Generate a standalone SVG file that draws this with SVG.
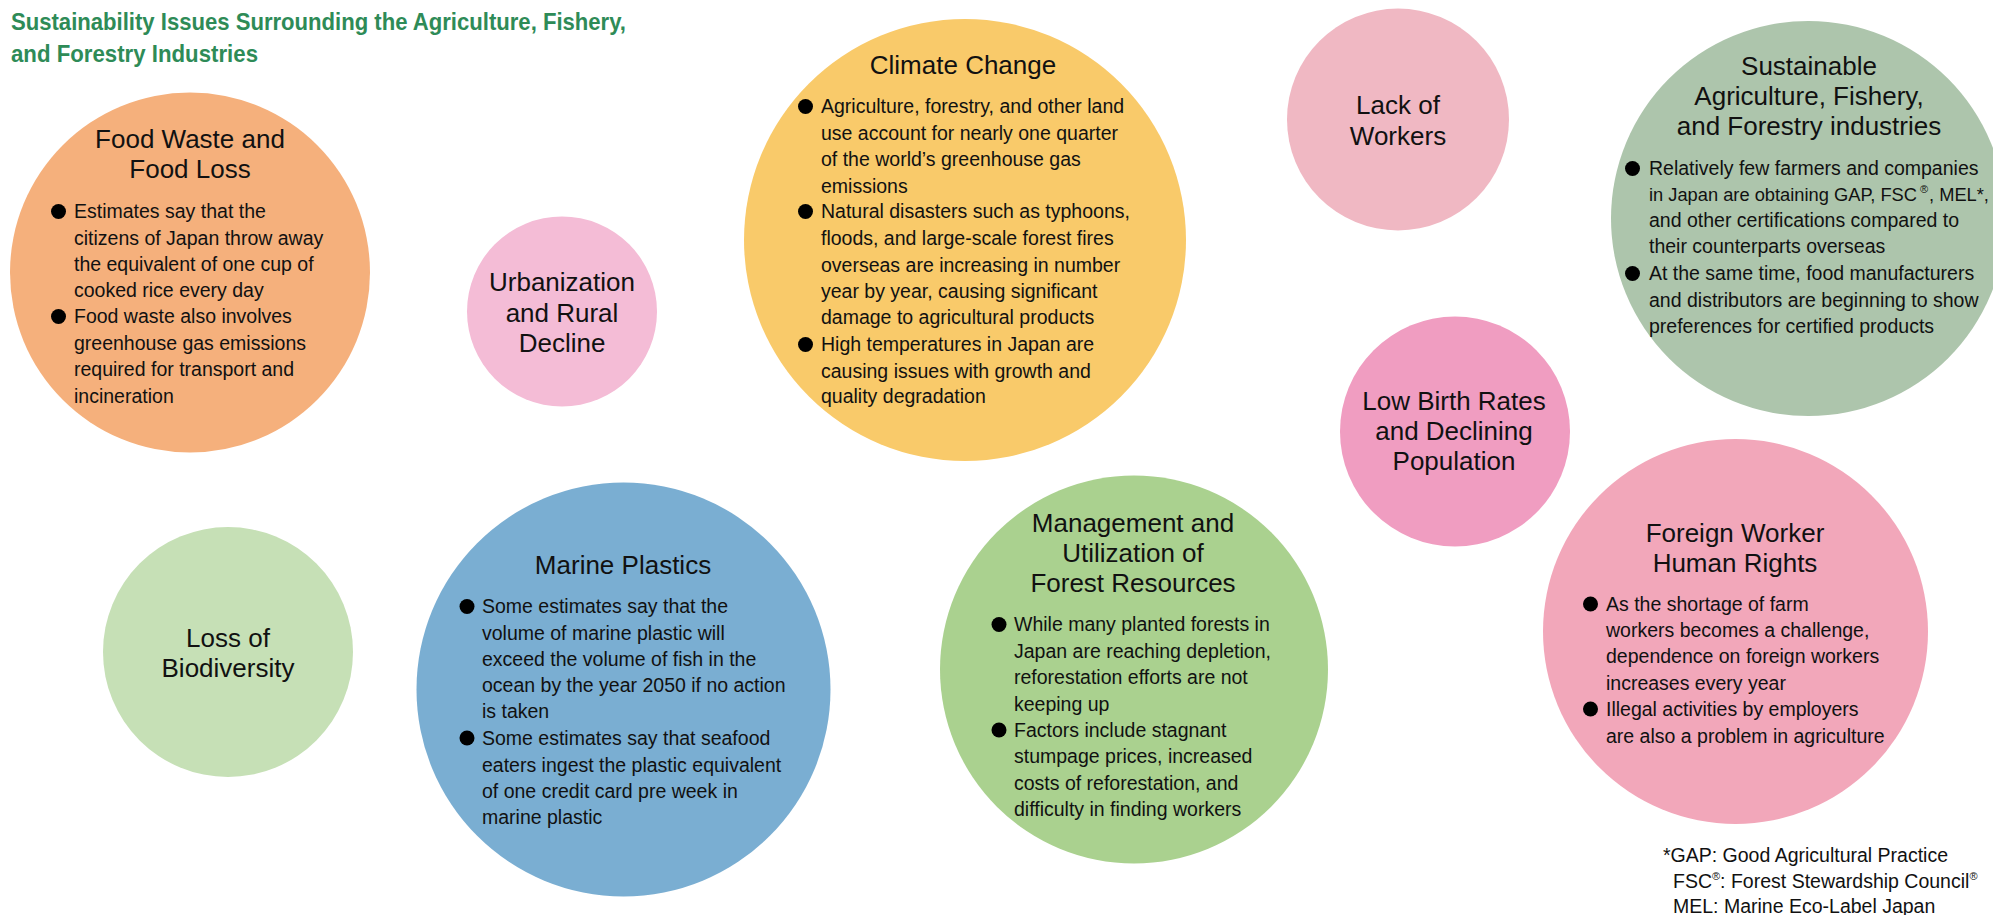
<svg xmlns="http://www.w3.org/2000/svg" width="1993" height="915" viewBox="0 0 1993 915">
<style>
text{font-family:"Liberation Sans",Arial,sans-serif;fill:#111;}
.title{font-size:24px;font-weight:bold;fill:#2e8b57;}
.h{font-size:26px;text-anchor:middle;}
.b{font-size:19.5px;}
.bs{font-size:18.3px;}
.fn{font-size:19.5px;}
.dot{fill:#000;}
.sup{font-size:11px;}
</style>
<rect width="1993" height="915" fill="#fff"/>
<g id="title">
<text class="title" x="11" y="30" textLength="615" lengthAdjust="spacingAndGlyphs">Sustainability Issues Surrounding the Agriculture, Fishery,</text>
<text class="title" x="11" y="62" textLength="247" lengthAdjust="spacingAndGlyphs">and Forestry Industries</text>
</g>
<g id="connectors"></g>
<g id="food-waste">
<circle cx="190" cy="272.5" r="180" fill="#f5b07c"/>
<text class="h" x="190" y="148">Food Waste and</text>
<text class="h" x="190" y="178">Food Loss</text>
<circle class="dot" cx="58.5" cy="211.5" r="7.5"/>
<text class="b" x="74" y="218">Estimates say that the</text>
<text class="b" x="74" y="245">citizens of Japan throw away</text>
<text class="b" x="74" y="271">the equivalent of one cup of</text>
<text class="b" x="74" y="297">cooked rice every day</text>
<circle class="dot" cx="58.5" cy="316.5" r="7.5"/>
<text class="b" x="74" y="323">Food waste also involves</text>
<text class="b" x="74" y="350">greenhouse gas emissions</text>
<text class="b" x="74" y="376">required for transport and</text>
<text class="b" x="74" y="403">incineration</text>
</g>
<g id="urbanization">
<circle cx="562" cy="311.5" r="95" fill="#f4bcd6"/>
<text class="h" x="562" y="291">Urbanization</text>
<text class="h" x="562" y="322">and Rural</text>
<text class="h" x="562" y="352">Decline</text>
</g>
<g id="climate-change">
<circle cx="965" cy="240" r="221" fill="#f9ca6a"/>
<text class="h" x="963" y="74">Climate Change</text>
<circle class="dot" cx="805.5" cy="106.5" r="7.5"/>
<text class="b" x="821" y="113">Agriculture, forestry, and other land</text>
<text class="b" x="821" y="140">use account for nearly one quarter</text>
<text class="b" x="821" y="166">of the world’s greenhouse gas</text>
<text class="b" x="821" y="193">emissions</text>
<circle class="dot" cx="805.5" cy="211.5" r="7.5"/>
<text class="b" x="821" y="218">Natural disasters such as typhoons,</text>
<text class="b" x="821" y="245">floods, and large-scale forest fires</text>
<text class="b" x="821" y="272">overseas are increasing in number</text>
<text class="b" x="821" y="298">year by year, causing significant</text>
<text class="b" x="821" y="324">damage to agricultural products</text>
<circle class="dot" cx="805.5" cy="344.5" r="7.5"/>
<text class="b" x="821" y="351">High temperatures in Japan are</text>
<text class="b" x="821" y="378">causing issues with growth and</text>
<text class="b" x="821" y="403">quality degradation</text>
</g>
<g id="lack-of-workers">
<circle cx="1398" cy="119.5" r="111" fill="#f0b8c3"/>
<text class="h" x="1398" y="114">Lack of</text>
<text class="h" x="1398" y="145">Workers</text>
</g>
<g id="sustainable">
<circle cx="1808.5" cy="218.5" r="197.5" fill="#adc5ac"/>
<text class="h" x="1809" y="75">Sustainable</text>
<text class="h" x="1809" y="105">Agriculture, Fishery,</text>
<text class="h" x="1809" y="135">and Forestry industries</text>
<circle class="dot" cx="1632.5" cy="168.5" r="7.5"/>
<text class="b" x="1649" y="175">Relatively few farmers and companies</text>
<text class="bs" x="1649" y="201">in Japan are obtaining GAP, FSC</text>
<text class="sup" x="1920" y="193">®</text>
<text class="bs" x="1929" y="201">, MEL*,</text>
<text class="b" x="1649" y="227">and other certifications compared to</text>
<text class="b" x="1649" y="253">their counterparts overseas</text>
<circle class="dot" cx="1632.5" cy="273.5" r="7.5"/>
<text class="b" x="1649" y="280">At the same time, food manufacturers</text>
<text class="b" x="1649" y="306.5">and distributors are beginning to show</text>
<text class="b" x="1649" y="333">preferences for certified products</text>
</g>
<g id="low-birth-rates">
<circle cx="1455" cy="431.5" r="115" fill="#f09dc1"/>
<text class="h" x="1454" y="410">Low Birth Rates</text>
<text class="h" x="1454" y="440">and Declining</text>
<text class="h" x="1454" y="470">Population</text>
</g>
<g id="foreign-worker">
<circle cx="1735.5" cy="631.5" r="192.5" fill="#f2a7ba"/>
<text class="h" x="1735" y="542">Foreign Worker</text>
<text class="h" x="1735" y="572">Human Rights</text>
<circle class="dot" cx="1590.5" cy="604" r="7.5"/>
<text class="b" x="1606" y="611">As the shortage of farm</text>
<text class="b" x="1606" y="637">workers becomes a challenge,</text>
<text class="b" x="1606" y="663">dependence on foreign workers</text>
<text class="b" x="1606" y="690">increases every year</text>
<circle class="dot" cx="1590.5" cy="709" r="7.5"/>
<text class="b" x="1606" y="716">Illegal activities by employers</text>
<text class="b" x="1606" y="743">are also a problem in agriculture</text>
</g>
<g id="loss-of-biodiversity">
<circle cx="228" cy="652" r="125" fill="#c6e0b6"/>
<text class="h" x="228" y="647">Loss of</text>
<text class="h" x="228" y="677">Biodiversity</text>
</g>
<g id="marine-plastics">
<circle cx="623.5" cy="689.5" r="207" fill="#7aaed2"/>
<text class="h" x="623" y="574">Marine Plastics</text>
<circle class="dot" cx="467" cy="606.5" r="7.5"/>
<text class="b" x="482" y="613">Some estimates say that the</text>
<text class="b" x="482" y="640">volume of marine plastic will</text>
<text class="b" x="482" y="666">exceed the volume of fish in the</text>
<text class="b" x="482" y="692">ocean by the year 2050 if no action</text>
<text class="b" x="482" y="718">is taken</text>
<circle class="dot" cx="467" cy="738" r="7.5"/>
<text class="b" x="482" y="745">Some estimates say that seafood</text>
<text class="b" x="482" y="772">eaters ingest the plastic equivalent</text>
<text class="b" x="482" y="798">of one credit card pre week in</text>
<text class="b" x="482" y="824">marine plastic</text>
</g>
<g id="forest-resources">
<circle cx="1134" cy="669.5" r="194" fill="#aad18f"/>
<text class="h" x="1133" y="532">Management and</text>
<text class="h" x="1133" y="562">Utilization of</text>
<text class="h" x="1133" y="592">Forest Resources</text>
<circle class="dot" cx="999" cy="624.5" r="7.5"/>
<text class="b" x="1014" y="631">While many planted forests in</text>
<text class="b" x="1014" y="658">Japan are reaching depletion,</text>
<text class="b" x="1014" y="684">reforestation efforts are not</text>
<text class="b" x="1014" y="711">keeping up</text>
<circle class="dot" cx="999" cy="730" r="7.5"/>
<text class="b" x="1014" y="737">Factors include stagnant</text>
<text class="b" x="1014" y="763">stumpage prices, increased</text>
<text class="b" x="1014" y="790">costs of reforestation, and</text>
<text class="b" x="1014" y="816">difficulty in finding workers</text>
</g>
<g id="footnote">
<text class="fn" x="1663" y="862">*GAP: Good Agricultural Practice</text>
<text class="fn" x="1673" y="888">FSC<tspan class="sup" dy="-8">®</tspan><tspan dy="8">: Forest Stewardship Council</tspan><tspan class="sup" dy="-8">®</tspan></text>
<text class="fn" x="1673" y="913">MEL: Marine Eco-Label Japan</text>
</g>
</svg>
